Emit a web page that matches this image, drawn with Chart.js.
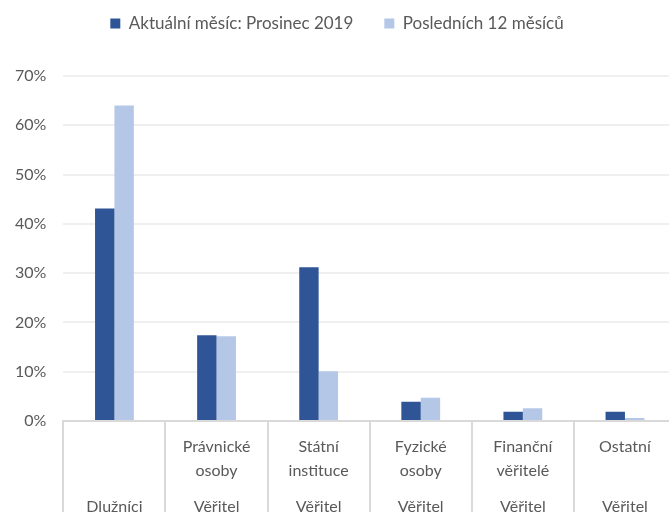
<!DOCTYPE html>
<html>
<head>
<meta charset="utf-8">
<script src="https://cdn.jsdelivr.net/npm/chart.js@4"></script>
<style>
  html, body { margin: 0; padding: 0; overflow: hidden; background: #fff; }
  #wrap { width: 676px; height: 514px; }
</style>
</head>
<body>
<div id="wrap"><canvas id="graf" width="676" height="514"></canvas></div>
<script>
// data
const podkategorie = [[], ['Právnické', 'osoby'], ['Státní', 'instituce'], ['Fyzické', 'osoby'], ['Finanční', 'věřitelé'], ['Ostatní']];
const skupiny = ['Dlužníci', 'Věřitel', 'Věřitel', 'Věřitel', 'Věřitel', 'Věřitel'];
const aktualniMesic = [43.1, 17.4, 31.2, 3.9, 1.9, 1.9];
const posledni12 = [64.0, 17.2, 10.1, 4.7, 2.6, 0.6];
const serieNazvy = ['Aktuální měsíc: Prosinec 2019', 'Posledních 12 měsíců'];
const yTicks = [0, 10, 20, 30, 40, 50, 60, 70];

const seda = '#595959';
const pismo = 'Lato, "Open Sans", sans-serif';

// multi-level labels: sub-label lines, spacer lines, then group label
const popisky = podkategorie.map((sub, i) => [sub[0] || '', '', sub[1] || '', '', '', skupiny[i]]);

// extra room between legend and plot
const legendaOdsazeni = {
    id: 'legendaOdsazeni',
    beforeInit(chart) {
        const fit = chart.legend.fit;
        chart.legend.fit = function () {
            fit.bind(chart.legend)();
            this.height += 34;
        };
    }
};

const config = {
    type: 'bar',
    data: {
        labels: popisky,
        datasets: [{
            label: serieNazvy[0],
            data: aktualniMesic,
            backgroundColor: '#2F5597',
            categoryPercentage: 0.38,
            barPercentage: 1
        }, {
            label: serieNazvy[1],
            data: posledni12,
            backgroundColor: '#B4C7E7',
            categoryPercentage: 0.38,
            barPercentage: 1
        }]
    },
    options: {
        responsive: false,
        animation: false,
        layout: { padding: { left: -2, right: 0, top: -16, bottom: 0 } },
        plugins: {
            legend: {
                position: 'top',
                labels: {
                    boxWidth: 10,
                    boxHeight: 10,
                    padding: 31,
                    color: seda,
                    font: { family: pismo, size: 17 }
                }
            },
            tooltip: { enabled: false }
        },
        scales: {
            x: {
                offset: true,
                border: { display: true, color: '#d9d9d9', width: 2 },
                grid: {
                    offset: true,
                    drawOnChartArea: false,
                    drawTicks: true,
                    tickLength: 95,
                    color: '#d9d9d9',
                    lineWidth: 2
                },
                ticks: {
                    maxRotation: 0,
                    autoSkip: false,
                    padding: -75,
                    color: seda,
                    font: { family: pismo, size: 16, lineHeight: '12px' }
                },
                afterFit: (axis) => { axis.height = 93; }
            },
            y: {
                min: 0,
                max: 70,
                afterBuildTicks: (axis) => { axis.ticks = yTicks.map(v => ({ value: v })); },
                border: { display: false },
                grid: { color: '#efefef', lineWidth: 2, drawTicks: false },
                ticks: {
                    padding: 17,
                    color: seda,
                    font: { family: pismo, size: 16 },
                    callback: (v) => v + '%'
                }
            }
        }
    },
    plugins: [legendaOdsazeni]
};

new Chart(document.getElementById('graf'), config);
</script>
</body>
</html>
